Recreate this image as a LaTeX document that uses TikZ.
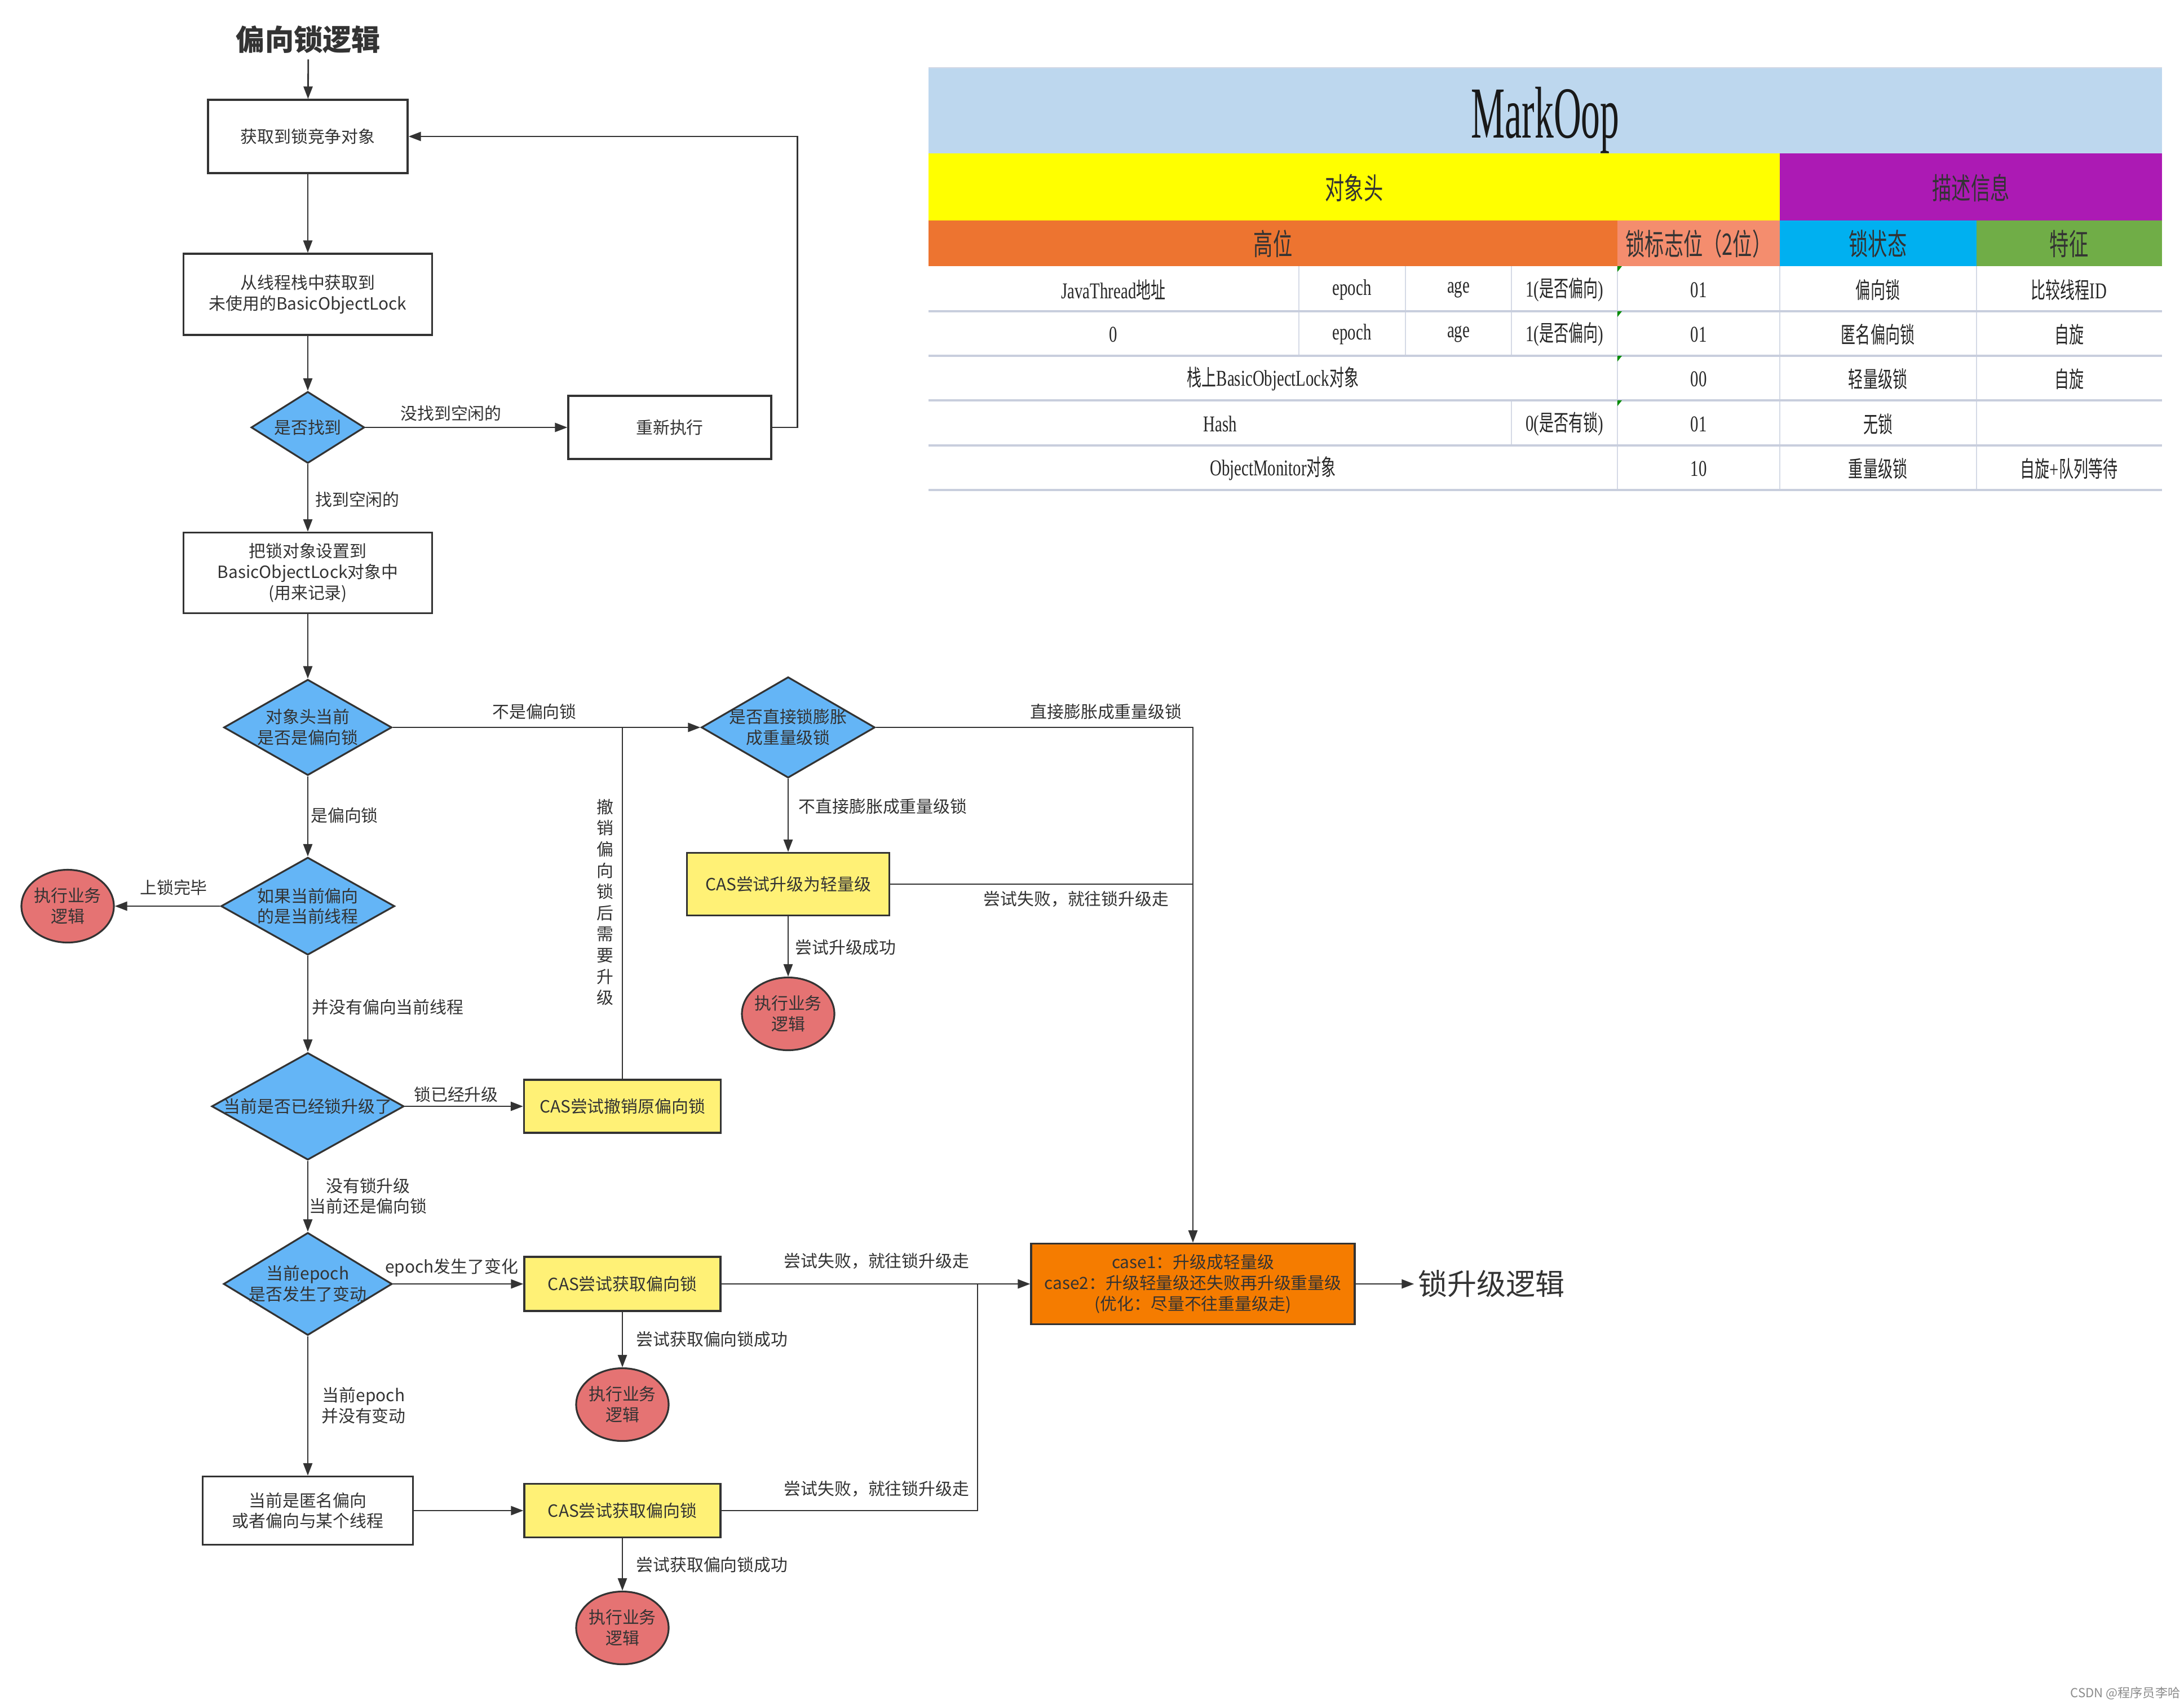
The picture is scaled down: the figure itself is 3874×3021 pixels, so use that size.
\documentclass[tikz,border=0pt]{standalone}
\usepackage{fontspec}
\setmainfont{Noto Sans CJK SC}
\newfontfamily\tblcjk[FakeStretch=0.65]{Noto Sans CJK SC}
\newfontfamily\tbllat[FakeStretch=0.72]{Liberation Serif}
\newfontfamily\tblbig[FakeStretch=0.52]{Liberation Serif}
\usetikzlibrary{shapes.geometric,arrows.meta}
\definecolor{lnc}{HTML}{333333}
\definecolor{decfill}{HTML}{64B5F6}
\definecolor{casfill}{HTML}{FFF176}
\definecolor{runfill}{HTML}{E57373}
\definecolor{orgfill}{HTML}{F57C00}
\definecolor{mkblue}{HTML}{BDD7EE}
\definecolor{mkyel}{HTML}{FFFF00}
\definecolor{mkpur}{HTML}{AC1AB4}
\definecolor{mkorg}{HTML}{ED7430}
\definecolor{mksal}{HTML}{F48D6E}
\definecolor{mkcyan}{HTML}{00B0F0}
\definecolor{mkgrn}{HTML}{70AD47}
\definecolor{mkgrid}{HTML}{D5DAE6}
\definecolor{mkrule}{HTML}{C8CEDD}
\newcommand{\nodefont}{\fontsize{8.5pt}{10.5pt}\selectfont}
\newcommand{\tblhead}{\fontsize{15pt}{18pt}\selectfont}
\newcommand{\tblcell}{\fontsize{11.4pt}{13pt}\selectfont}
\begin{document}
\begin{tikzpicture}[x=0.1mm, y=-0.1mm,
  proc/.style={rectangle, draw=lnc, line width=0.9pt, fill=white, inner sep=0pt, align=center, font=\nodefont, text=lnc},
  cas/.style={proc, fill=casfill},
  upg/.style={proc, fill=orgfill},
  dec/.style={diamond, shape aspect=1.7, draw=lnc, line width=0.9pt, fill=decfill, inner sep=-2mm, align=center, font=\nodefont, text=lnc},
  run/.style={ellipse, draw=lnc, line width=0.9pt, fill=runfill, inner sep=-2mm, minimum width=16.4mm, minimum height=12.9mm, align=center, font=\nodefont, text=lnc},
  lbl/.style={inner sep=0pt, align=center, font=\nodefont, text=lnc},
  arr/.style={draw=lnc, line width=0.8pt, -{Triangle[length=2.2mm, width=1.6mm]}},
  conn/.style={draw=lnc, line width=0.8pt},
  cell/.style={inner sep=0pt, font=\tblcell\tblcjk, text=black!85},
  head/.style={inner sep=0pt, font=\tblhead\tblcjk, text=black!80},
  tline/.style={draw=mkgrid, line width=0.5pt},
  trule/.style={draw=mkrule, line width=1pt}]
\path[use as bounding box, fill=white] (0,0) rectangle (3874,3021);

\node[lbl, font=\fontsize{14.6pt}{17pt}\selectfont\bfseries, inner sep=1mm] (t0) at (547,70){偏向锁逻辑};
\node[proc, minimum width=35.4mm, minimum height=13mm] (b1) at (546,242){获取到锁竞争对象};
\node[proc, minimum width=44.1mm, minimum height=14.4mm] (b2) at (546,522){从线程栈中获取到\\未使用的BasicObjectLock};
\node[dec, minimum width=20.1mm, minimum height=12.7mm] (d0) at (546,758){是否找到};
\node[proc, minimum width=36mm, minimum height=11.2mm] (rt) at (1188,758){重新执行};
\node[proc, minimum width=44.1mm, minimum height=14.3mm] (b3) at (546,1016){把锁对象设置到\\BasicObjectLock对象中\\(用来记录)};
\node[dec, minimum width=29.8mm, minimum height=17mm] (d1) at (546,1290){对象头当前\\是否是偏向锁};
\node[dec, minimum width=30.8mm, minimum height=17.9mm] (d2) at (1398,1290){是否直接锁膨胀\\成重量级锁};
\node[dec, minimum width=30.8mm, minimum height=17.3mm] (d3) at (546,1607){如果当前偏向\\的是当前线程};
\node[run] (r0) at (120,1607){执行业务\\逻辑};
\node[cas, minimum width=35.9mm, minimum height=11.1mm] (y2) at (1398,1568){CAS尝试升级为轻量级};
\node[run] (r1) at (1398,1798){执行业务\\逻辑};
\node[dec, minimum width=34.1mm, minimum height=19mm] (d4) at (546,1962){当前是否已经锁升级了};
\node[cas, minimum width=34.9mm, minimum height=9.4mm] (y1) at (1104,1962){CAS尝试撤销原偏向锁};
\node[dec, minimum width=29.9mm, minimum height=18.2mm] (d5) at (546,2277){当前epoch\\是否发生了变动};
\node[cas, minimum width=34.8mm, minimum height=9.6mm] (y3) at (1104,2277){CAS尝试获取偏向锁};
\node[run] (r2) at (1104,2491){执行业务\\逻辑};
\node[proc, minimum width=37.3mm, minimum height=12.1mm] (b4) at (546,2679){当前是匿名偏向\\或者偏向与某个线程};
\node[cas, minimum width=34.8mm, minimum height=9.5mm] (y4) at (1104,2679){CAS尝试获取偏向锁};
\node[run] (r3) at (1104,2887){执行业务\\逻辑};
\node[upg, minimum width=57.4mm, minimum height=14.3mm] (o1) at (2116,2277){case1：升级成轻量级\\case2：升级轻量级还失败再升级重量级\\(优化：尽量不往重量级走)};
\node[lbl, font=\fontsize{14.8pt}{17pt}\selectfont, inner sep=0.6mm] (t1) at (2645,2277){锁升级逻辑};
\coordinate (j1) at (1734,2277);

\draw[arr](t0) -- (b1);
\draw[arr](b1) -- (b2);
\draw[arr](b2) -- (d0);
\draw[arr](d0) -- (rt);
\draw[arr](rt.east) -- ++(45,0) |- (b1.east);
\draw[arr](d0) -- (b3);
\draw[arr](b3) -- (d1);
\draw[arr](d1) -- (d2);
\draw[conn](y1.north) -- (y1.north |- d1.east);
\draw[arr](d2.east) -| (o1.north);
\draw[arr](d2) -- (y2);
\draw[conn](y2.east) -- (y2.east -| o1.north);
\draw[arr](y2) -- (r1);
\draw[arr](d1) -- (d3);
\draw[arr](d3) -- (r0);
\draw[arr](d3) -- (d4);
\draw[arr](d4) -- (y1);
\draw[arr](d4) -- (d5);
\draw[arr](d5) -- (y3);
\draw[arr](y3) -- (r2);
\draw[arr](y3) -- (o1);
\draw[arr](d5) -- (b4);
\draw[arr](b4) -- (y4);
\draw[arr](y4) -- (r3);
\draw[conn](y4.east) -| (j1);
\draw[arr](o1) -- (t1);

\node[lbl] (l1) at (800,733){没找到空闲的};
\node[lbl] (l2) at (634,886){找到空闲的};
\node[lbl] (l3) at (948,1262){不是偏向锁};
\node[lbl, font=\fontsize{8.5pt}{10.7pt}\selectfont] (l4) at (1073,1600){撤\\销\\偏\\向\\锁\\后\\需\\要\\升\\级};
\node[lbl] (l5) at (1962,1262){直接膨胀成重量级锁};
\node[lbl] (l6) at (1566,1430){不直接膨胀成重量级锁};
\node[lbl] (l7) at (1909,1594){尝试失败，就往锁升级走};
\node[lbl] (l8) at (1500,1680){尝试升级成功};
\node[lbl] (l9) at (611,1446){是偏向锁};
\node[lbl] (l10) at (308,1574){上锁完毕};
\node[lbl] (l11) at (688,1786){并没有偏向当前线程};
\node[lbl] (l12) at (809,1941){锁已经升级};
\node[lbl] (l13) at (653,2121){没有锁升级\\当前还是偏向锁};
\node[lbl] (l14) at (801,2248){epoch发生了变化};
\node[lbl] (l15) at (1555,2236){尝试失败，就往锁升级走};
\node[lbl] (l16) at (1263,2375){尝试获取偏向锁成功};
\node[lbl] (l17) at (645,2493){当前epoch\\并没有变动};
\node[lbl] (l18) at (1555,2640){尝试失败，就往锁升级走};
\node[lbl] (l19) at (1263,2775){尝试获取偏向锁成功};

\fill[mkblue] (1647,120) rectangle (3835,272);
\fill[mkyel] (1647,272) rectangle (3157,391);
\fill[mkpur] (3157,272) rectangle (3835,391);
\fill[mkorg] (1647,391) rectangle (2869,472);
\fill[mksal] (2869,391) rectangle (3157,472);
\fill[mkcyan] (3157,391) rectangle (3506,472);
\fill[mkgrn] (3506,391) rectangle (3835,472);
\draw[tline] (2304,472) -- (2304,631);
\draw[tline] (2493,472) -- (2493,631);
\draw[tline] (2681,472) -- (2681,631) (2681,710) -- (2681,790);
\draw[tline] (2869,472) -- (2869,869);
\draw[tline] (3157,472) -- (3157,869);
\draw[tline] (3506,472) -- (3506,869);
\draw[tline] (1647,120) -- (3835,120);
\draw[trule] (1647,552) -- (3835,552);
\draw[trule] (1647,631) -- (3835,631);
\draw[trule] (1647,710) -- (3835,710);
\draw[trule] (1647,790) -- (3835,790);
\draw[trule] (1647,869) -- (3835,869);
\fill[green!55!black] (2869,472) -- ++(8,0) -- ++(-8,10) -- cycle;
\fill[green!55!black] (2869,552) -- ++(8,0) -- ++(-8,10) -- cycle;
\fill[green!55!black] (2869,631) -- ++(8,0) -- ++(-8,10) -- cycle;
\fill[green!55!black] (2869,710) -- ++(8,0) -- ++(-8,10) -- cycle;

\node[inner sep=0pt, text=black!90, font=\fontsize{37pt}{40pt}\selectfont\tblbig] (mk) at (2741,213){MarkOop};
\node[head] (h1) at (2402,333){对象头};
\node[head] (h2) at (3496,333){描述信息};
\node[head] (h3) at (2258,432){高位};
\node[head] (h4) at (3013,432){锁标志位（2位）};
\node[head] (h5) at (3331,432){锁状态};
\node[head] (h6) at (3670,432){特征};

\node[cell] (c11) at (1975,514){{\tbllat JavaThread}地址};
\node[cell] (c12) at (2398,514){\tbllat epoch};
\node[cell] (c13) at (2587,514){\tbllat age};
\node[cell] (c14) at (2775,514){{\tbllat 1(}是否偏向{\tbllat )}};
\node[cell] (c15) at (3013,514){\tbllat 01};
\node[cell] (c16) at (3331,514){偏向锁};
\node[cell] (c17) at (3670,514){比较线程{\tbllat ID}};
\node[cell] (c21) at (1975,593){\tbllat 0};
\node[cell] (c22) at (2398,593){\tbllat epoch};
\node[cell] (c23) at (2587,593){\tbllat age};
\node[cell] (c24) at (2775,593){{\tbllat 1(}是否偏向{\tbllat )}};
\node[cell] (c25) at (3013,593){\tbllat 01};
\node[cell] (c26) at (3331,593){匿名偏向锁};
\node[cell] (c27) at (3670,593){自旋};
\node[cell] (c31) at (2258,672){栈上{\tbllat BasicObjectLock}对象};
\node[cell] (c35) at (3013,672){\tbllat 00};
\node[cell] (c36) at (3331,672){轻量级锁};
\node[cell] (c37) at (3670,672){自旋};
\node[cell] (c41) at (2164,752){\tbllat Hash};
\node[cell] (c44) at (2775,752){{\tbllat 0(}是否有锁{\tbllat )}};
\node[cell] (c45) at (3013,752){\tbllat 01};
\node[cell] (c46) at (3331,752){无锁};
\node[cell] (c51) at (2258,831){{\tbllat ObjectMonitor}对象};
\node[cell] (c55) at (3013,831){\tbllat 10};
\node[cell] (c56) at (3331,831){重量级锁};
\node[cell] (c57) at (3670,831){自旋{\tbllat +}队列等待};

\node[inner sep=0pt, text=black!45, font=\fontsize{6.3pt}{7pt}\selectfont] (wm) at (3770,3003){CSDN @程序员李哈};

\end{tikzpicture}
\end{document}
